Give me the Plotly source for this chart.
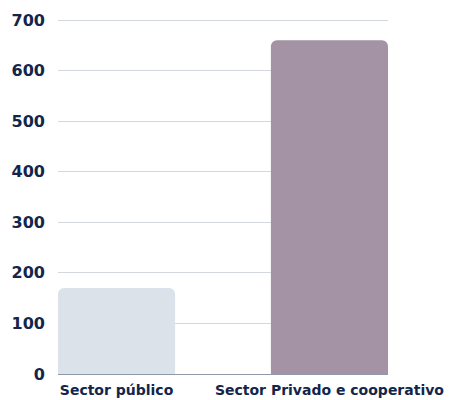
import plotly.graph_objects as go

categories = ["Sector público", "Sector Privado e cooperativo"]
values = [170, 660]
bar_colors = ["#dbe2e9", "#a393a5"]
y_ticks = [0, 100, 200, 300, 400, 500, 600, 700]

text_color = "#13254a"
font_family = "DejaVu Sans, Montserrat, sans-serif"

fig = go.Figure()
fig.add_trace(go.Bar(
    x=list(range(len(categories))),
    y=values,
    width=0.55,
    marker=dict(color=bar_colors, line=dict(width=0), cornerradius=6),
    hoverinfo="skip",
))

fig.update_layout(
    width=455, height=400,
    margin=dict(l=50, r=75, t=11, b=34, autoexpand=False),
    paper_bgcolor="white", plot_bgcolor="white",
    showlegend=False,
    font=dict(family=font_family, color=text_color, size=13),
    xaxis=dict(
        range=[-0.275, 1.275],
        tickmode="array",
        tickvals=list(range(len(categories))),
        ticktext=[f"<b>{c}</b>" for c in categories],
        showgrid=False, zeroline=False,
        showline=False, ticks="",
        automargin=False,
        ticklabelstandoff=6,
        tickfont=dict(size=14, color=text_color, family=font_family),
    ),
    yaxis=dict(
        range=[0, 702],
        tickmode="array",
        tickvals=y_ticks,
        ticktext=[f"<b>{t}</b>" for t in y_ticks],
        showgrid=True, gridcolor="#d3d8df", gridwidth=1,
        zeroline=True, zerolinecolor="#8e99aa", zerolinewidth=1,
        showline=False, ticks="",
        automargin=False,
        ticklabelstandoff=12,
        tickfont=dict(size=16, color=text_color, family=font_family),
    ),
)

fig.write_html("out.html")
